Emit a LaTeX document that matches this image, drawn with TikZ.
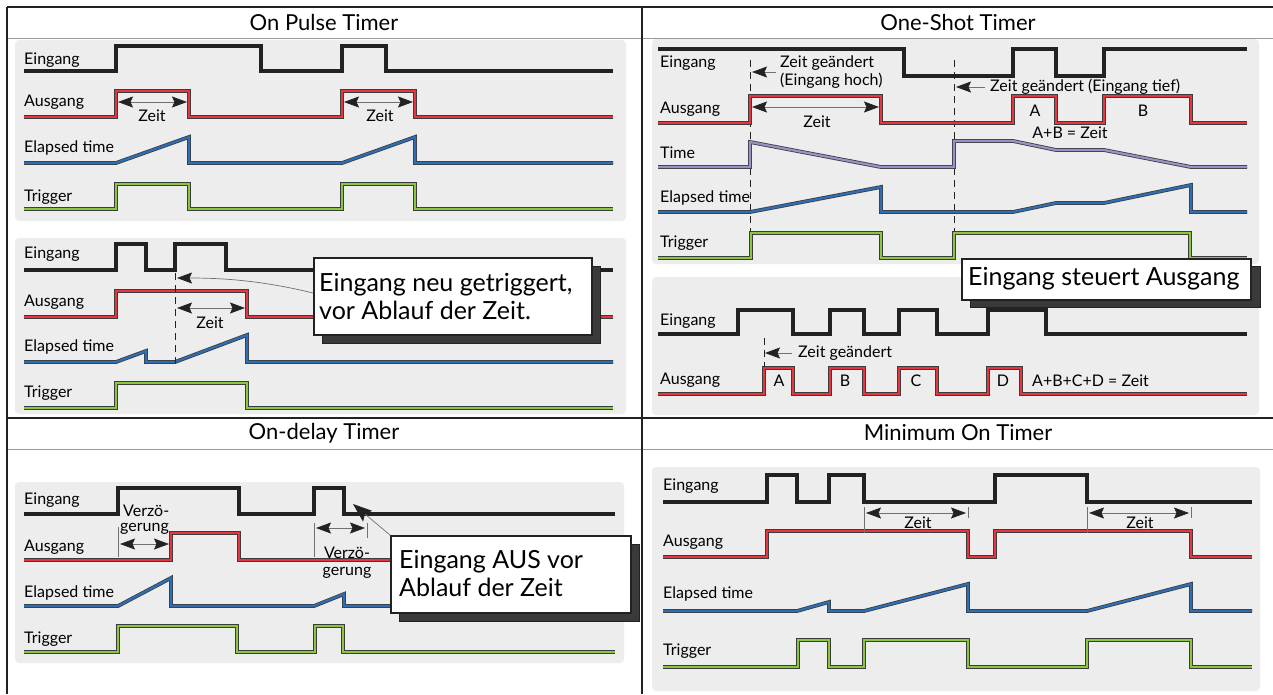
\documentclass[tikz,border=0pt]{standalone}
\usepackage{fontspec}
\setmainfont{Lato}
\usetikzlibrary{arrows.meta}
\definecolor{boxgray}{HTML}{EDEDED}
\definecolor{sigred}{HTML}{E8343C}
\definecolor{sigblue}{HTML}{2E6EB5}
\definecolor{siggreen}{HTML}{8CC63F}
\definecolor{sigpurple}{HTML}{9D8FC8}
\definecolor{outl}{HTML}{3C3C3C}
\definecolor{blk}{HTML}{222222}
\definecolor{dimgray}{HTML}{707070}
\definecolor{shadowgray}{HTML}{3A3A3A}
\begin{document}
\begin{tikzpicture}[x=1pt,y=-1pt,
  lbl/.style={anchor=west,inner sep=0pt,font=\fontsize{16}{18}\selectfont},
  ann/.style={inner sep=0pt,font=\fontsize{16}{18}\selectfont},
  ttl/.style={inner sep=0pt,font=\fontsize{22}{24}\selectfont},
  gbox/.style={fill=boxgray,rounded corners=4pt},
  frame/.style={draw=blk,line width=2.5pt},
  tline/.style={draw=gray!80,line width=1pt},
  sblk/.style={draw=blk,line width=3.2pt,line join=miter},
  sred/.style={draw=outl,line width=0.8pt,double=sigred,double distance=2.2pt,line join=miter},
  sblue/.style={draw=outl,line width=0.8pt,double=sigblue,double distance=2.2pt,line join=miter},
  sgreen/.style={draw=outl,line width=0.8pt,double=siggreen,double distance=2.2pt,line join=miter},
  spurple/.style={draw=outl,line width=0.8pt,double=sigpurple,double distance=2.2pt,line join=miter},
  dim/.style={draw=dimgray,line width=0.7pt,{Stealth[length=15pt,width=11pt,inset=2.5pt,color=blk]}-{Stealth[length=15pt,width=11pt,inset=2.5pt,color=blk]}},
  pointer/.style={draw=dimgray,line width=0.7pt,-{Stealth[length=15pt,width=11pt,inset=2.5pt,color=blk]}},
  bigpointer/.style={draw=dimgray,line width=0.7pt,-{Stealth[length=19pt,width=14pt,inset=3.5pt,color=blk]}},
  tick/.style={draw=dimgray,line width=0.8pt},
  dashv/.style={draw=blk,line width=0.7pt,dash pattern=on 7pt off 5pt},
  callout/.style={draw=blk,line width=2pt,fill=white},
  cshadow/.style={draw=blk,line width=0.8pt,fill=shadowgray},
  ctext/.style={anchor=west,inner sep=0pt,align=left,font=\fontsize{25}{28}\selectfont}
]
\useasboundingbox (0,0) rectangle (1273,694);
\fill[white] (0,0) rectangle (1273,694);

% ---------- gray boxes ----------
\fill[gbox] (15,40) rectangle (626,221);
\fill[gbox] (15,238) rectangle (626,414);
\fill[gbox] (652,39) rectangle (1259,264);
\fill[gbox] (652,277) rectangle (1259,415);
\fill[gbox] (15,482) rectangle (624,663);
\fill[gbox] (652,467) rectangle (1260,691);

% ---------- frame ----------
\draw[tline] (7,38) -- (1273,38);
\draw[tline] (7,449) -- (1273,449);
\draw[frame] (7,7) -- (1273,7);
\draw[frame] (7,7) -- (7,694);
\draw[frame] (642,7) -- (642,694);
\draw[frame] (7,418) -- (1273,418);

\node[ttl] (t1) at (324,22) {On Pulse Timer};
\node[ttl] (t2) at (958,22) {One-Shot Timer};
\node[ttl] (t3) at (324,433) {On-delay Timer};
\node[ttl] (t4) at (958,433) {Minimum On Timer};

% =============== On Pulse Timer, part 1 ===============
\node[lbl] (a1) at (24,60) {Eingang};
\node[lbl] (a2) at (24,102) {Ausgang};
\node[lbl] (a3) at (24,148) {Elapsed time};
\node[lbl] (a4) at (24,197) {Trigger};
\draw[sblk] (24,71)--(116,71)--(116,46)--(261,46)--(261,71)--(342,71)--(342,46)--(386,46)--(386,71)--(613,71);
\draw[sred] (24,117)--(116,117)--(116,91)--(189,91)--(189,117)--(342,117)--(342,91)--(415,91)--(415,117)--(613,117);
\draw[sblue] (24,163)--(116,163)--(189,137)--(189,163)--(342,163)--(415,137)--(415,163)--(613,163);
\draw[sgreen] (24,209)--(116,209)--(116,184)--(189,184)--(189,209)--(342,209)--(342,184)--(415,184)--(415,209)--(613,209);
\coordinate (z1a) at (118,102); \coordinate (z1b) at (187,102);
\draw[dim] (z1a) -- (z1b);
\node[ann] (z1) at (152,116) {Zeit};
\coordinate (z2a) at (344,102); \coordinate (z2b) at (413,102);
\draw[dim] (z2a) -- (z2b);
\node[ann] (z2) at (380,116) {Zeit};

% =============== On Pulse Timer, part 2 ===============
\node[lbl] (b1) at (24,254) {Eingang};
\node[lbl] (b2) at (24,302) {Ausgang};
\node[lbl] (b3) at (24,347) {Elapsed time};
\node[lbl] (b4) at (24,393) {Trigger};
\draw[sblk] (24,270)--(116,270)--(116,244)--(146,244)--(146,270)--(175,270)--(175,244)--(226,244)--(226,270)--(613,270);
\draw[sred] (24,317)--(116,317)--(116,291)--(247,291)--(247,317)--(613,317);
\draw[sblue] (24,362)--(116,362)--(146,351)--(146,362)--(175,362)--(247,335)--(247,362)--(613,362);
\draw[sgreen] (24,408)--(116,408)--(116,383)--(247,383)--(247,408)--(613,408);
\draw[dashv] (175,273) -- (175,363);
\coordinate (z3a) at (177,308); \coordinate (z3b) at (245,308);
\draw[dim] (z3a) -- (z3b);
\node[ann] (z3) at (210,323) {Zeit};
\fill[cshadow] (322,266) rectangle (600,343);
\node[callout,minimum width=278pt,minimum height=77pt,anchor=north west,inner sep=0pt] (c1) at (313,257) {};
\node[ctext] (c1t) at (319,296) {Eingang neu getriggert,\\vor Ablauf der Zeit.};
\coordinate (c1p) at (177,278);
\draw[pointer] (c1.west |- 0,293) .. controls (260,280) and (220,278) .. (c1p);

% =============== One-Shot Timer, part 1 ===============
\node[lbl] (d1) at (660,63) {Eingang};
\node[lbl] (d2) at (660,109) {Ausgang};
\node[lbl] (d3) at (660,153) {Time};
\node[lbl] (d4) at (660,198) {Elapsed time};
\node[lbl] (d5) at (660,243) {Trigger};
\draw[dashv] (750,60) -- (750,232);
\draw[dashv] (954,60) -- (954,232);
\draw[sblk] (658,49)--(904,49)--(904,76)--(1013,76)--(1013,49)--(1056,49)--(1056,76)--(1104,76)--(1104,49)--(1247,49);
\draw[sred] (658,123)--(750,123)--(750,96)--(881,96)--(881,123)--(1013,123)--(1013,96)--(1056,96)--(1056,123)--(1104,123)--(1104,96)--(1191,96)--(1191,123)--(1247,123);
\draw[spurple] (658,167)--(750,167)--(750,142)--(881,167)--(954,167)--(954,141)--(1013,141)--(1056,150)--(1104,150)--(1191,167)--(1247,167);
\draw[sblue] (658,212)--(750,212)--(881,187)--(881,212)--(1013,212)--(1056,203)--(1104,203)--(1191,185)--(1191,212)--(1247,212);
\draw[sgreen] (658,258)--(751,258)--(751,233)--(881,233)--(881,258)--(954,258)--(954,233)--(1190,233)--(1190,258)--(1247,258);
\node[ann,anchor=west,align=left] (e1) at (780,72) {Zeit geändert\\(Eingang hoch)};
\coordinate (e1p) at (752,72);
\draw[pointer] (776,72) -- (e1p);
\node[ann,anchor=west] (e2) at (990,87) {Zeit geändert (Eingang tief)};
\coordinate (e2p) at (956,87);
\draw[pointer] (e2.west) ++(-5,0) -- (e2p);
\coordinate (z4a) at (752,107); \coordinate (z4b) at (879,107);
\draw[dim] (z4a) -- (z4b);
\node[ann] (z4) at (817,122) {Zeit};
\node[ann] (e3) at (1035,111) {A};
\node[ann] (e4) at (1143,111) {B};
\node[ann] (e5) at (1070,133) {A+B = Zeit};
\fill[cshadow] (970,266) rectangle (1260,307);
\node[callout,minimum width=289pt,minimum height=41pt,anchor=north west,inner sep=0pt] (c2) at (961,258) {};
\node[ctext] (c2t) at (968,279) {Eingang steuert Ausgang};

% =============== One-Shot Timer, part 2 ===============
\node[lbl] (f1) at (660,321) {Eingang};
\node[lbl] (f2) at (660,380) {Ausgang};
\draw[sblk] (658,334)--(738,334)--(738,310)--(793,310)--(793,334)--(830,334)--(830,310)--(864,310)--(864,334)--(899,334)--(899,310)--(937,310)--(937,334)--(988,334)--(988,310)--(1046,310)--(1046,334)--(1247,334);
\draw[sred] (658,394)--(764,394)--(764,368)--(793,368)--(793,394)--(830,394)--(830,368)--(864,368)--(864,394)--(899,394)--(899,368)--(937,368)--(937,394)--(988,394)--(988,368)--(1021,368)--(1021,394)--(1247,394);
\draw[dashv] (764,338) -- (764,367);
\node[ann,anchor=west] (g1) at (798,353) {Zeit geändert};
\coordinate (g1p) at (765,353);
\draw[pointer] (792,353) -- (g1p);
\node[ann] (g2) at (779,381) {A};
\node[ann] (g3) at (845,381) {B};
\node[ann] (g4) at (916,381) {C};
\node[ann] (g5) at (1003,381) {D};
\node[ann,anchor=west] (g6) at (1032,381) {A+B+C+D = Zeit};

% =============== On-delay Timer ===============
\node[lbl] (h1) at (24,500) {Eingang};
\node[lbl] (h2) at (24,547) {Ausgang};
\node[lbl] (h3) at (24,593) {Elapsed time};
\node[lbl] (h4) at (24,639) {Trigger};
\draw[sblk] (24,514)--(118,514)--(118,488)--(239,488)--(239,514)--(314,514)--(314,488)--(344,488)--(344,514)--(615,514);
\draw[sred] (24,560)--(171,560)--(171,533)--(239,533)--(239,560)--(615,560);
\draw[sblue] (24,606)--(118,606)--(171,578)--(171,606)--(314,606)--(344,594)--(344,606)--(615,606);
\draw[sgreen] (24,652)--(118,652)--(118,626)--(237,626)--(237,652)--(315,652)--(315,626)--(343,626)--(343,652)--(615,652);
\draw[tick] (118,527) -- (118,557);
\node[ann,anchor=west] (i1) at (123,511) {Verzö-};
\node[ann,anchor=west] (i2) at (120,529) {gerung};
\coordinate (v1a) at (120,544); \coordinate (v1b) at (169,544);
\draw[dim] (v1a) -- (v1b);
\draw[tick] (314,523) -- (314,557);
\draw[tick] (367,523) -- (367,538);
\coordinate (v2a) at (316,528); \coordinate (v2b) at (365,528);
\draw[dim] (v2a) -- (v2b);
\node[ann] (i3) at (347,553) {Verzö-};
\node[ann] (i4) at (347,573) {gerung};
\fill[cshadow] (399,544) rectangle (639,621);
\node[callout,minimum width=240pt,minimum height=77pt,anchor=north west,inner sep=0pt] (c3) at (390,535) {};
\node[ctext] (c3t) at (399,573) {Eingang AUS vor\\Ablauf der Zeit};
\coordinate (c3p) at (353,504);
\draw[bigpointer] (c3.north west) -- (c3p);

% =============== Minimum On Timer ===============
\node[lbl] (k1) at (663,486) {Eingang};
\node[lbl] (k2) at (663,542) {Ausgang};
\node[lbl] (k3) at (663,594) {Elapsed time};
\node[lbl] (k4) at (663,651) {Trigger};
\draw[sblk] (663,502)--(767,502)--(767,475)--(797,475)--(797,502)--(829,502)--(829,475)--(864,475)--(864,502)--(995,502)--(995,475)--(1087,475)--(1087,502)--(1252,502);
\draw[sred] (663,557)--(767,557)--(767,531)--(968,531)--(968,557)--(995,557)--(995,531)--(1191,531)--(1191,557)--(1252,557);
\draw[sblue] (663,611)--(797,611)--(829,602)--(829,611)--(864,611)--(968,584)--(968,611)--(1087,611)--(1191,584)--(1191,611)--(1252,611);
\draw[sgreen] (663,667)--(798,667)--(798,640)--(829,640)--(829,667)--(864,667)--(864,640)--(968,640)--(968,667)--(1087,667)--(1087,640)--(1191,640)--(1191,667)--(1252,667);
\draw[tick] (864,507) -- (864,533);
\draw[tick] (968,507) -- (968,518);
\coordinate (m1a) at (866,513); \coordinate (m1b) at (966,513);
\draw[dim] (m1a) -- (m1b);
\node[ann] (m1) at (918,523) {Zeit};
\draw[tick] (1087,507) -- (1087,533);
\draw[tick] (1191,507) -- (1191,518);
\coordinate (m2a) at (1089,513); \coordinate (m2b) at (1189,513);
\draw[dim] (m2a) -- (m2b);
\node[ann] (m2) at (1140,523) {Zeit};
\end{tikzpicture}
\end{document}
